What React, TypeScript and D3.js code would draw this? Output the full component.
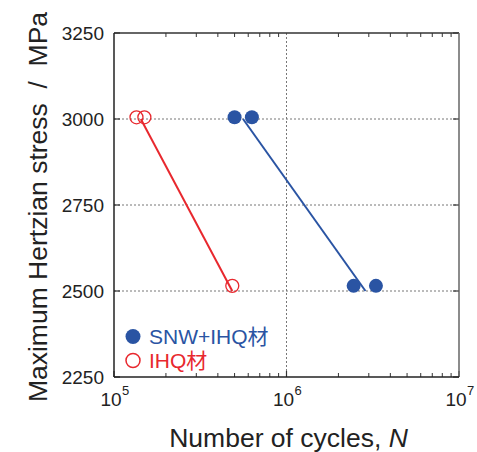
import React from "react";
import * as d3 from "d3";

const W = 477;
const H = 452;

const ihqCycles = [1.35e5, 1.5e5, 4.85e5];
const ihqStress = [3005, 3005, 2515];
const snwCycles = [5.0e5, 6.3e5, 2.45e6, 3.3e6];
const snwStress = [3005, 3005, 2515, 2515];
const ihqFitCycles = [1.43e5, 4.85e5];
const ihqFitStress = [3000, 2500];
const snwFitCycles = [5.6e5, 2.87e6];
const snwFitStress = [3000, 2500];

const yTicks = [2250, 2500, 2750, 3000, 3250];
const yGrid = [2500, 2750, 3000];
const xMajor = [1e5, 1e6, 1e7];
const xExponents = ["5", "6", "7"];
const xGrid = [1e6];
const legendLabels = ["SNW+IHQ材", "IHQ材"];

const BLUE = "#2a54a3";
const RED = "#e8282e";
const FONT = "'Liberation Sans', Arial, 'Noto Sans CJK JP', sans-serif";

export default function App() {
  const left = 114, right = 459, top = 33, bottom = 377;
  const x = d3.scaleLog().domain([1e5, 1e7]).range([left, right]);
  const y = d3.scaleLinear().domain([2250, 3250]).range([bottom, top]);
  const minor: number[] = [];
  [1e5, 1e6].forEach((d) => {
    for (let k = 2; k <= 9; k++) minor.push(d * k);
  });
  const line = d3
    .line<[number, number]>()
    .x((d) => x(d[0]))
    .y((d) => y(d[1]));
  const ihqFit = ihqFitCycles.map((c, i) => [c, ihqFitStress[i]] as [number, number]);
  const snwFit = snwFitCycles.map((c, i) => [c, snwFitStress[i]] as [number, number]);

  return (
    <svg width={W} height={H} style={{ position: "absolute", left: 0, top: 0, background: "#fff" }} fontFamily={FONT}>
      {/* grid */}
      {yGrid.map((v) => (
        <line key={"gy" + v} x1={left} x2={right} y1={y(v)} y2={y(v)} stroke="#777" strokeWidth={1} strokeDasharray="2,2" />
      ))}
      {xGrid.map((v) => (
        <line key={"gx" + v} x1={x(v)} x2={x(v)} y1={top} y2={bottom} stroke="#777" strokeWidth={1} strokeDasharray="2,2" />
      ))}
      {/* minor x ticks */}
      {minor.map((v) => (
        <g key={"m" + v}>
          <line x1={x(v)} x2={x(v)} y1={bottom} y2={bottom - 4} stroke="#333" strokeWidth={1} />
          <line x1={x(v)} x2={x(v)} y1={top} y2={top + 4} stroke="#333" strokeWidth={1} />
        </g>
      ))}
      {/* y major ticks */}
      {yTicks.map((v) => (
        <g key={"yt" + v}>
          <line x1={left} x2={left + 6} y1={y(v)} y2={y(v)} stroke="#333" strokeWidth={1.2} />
          <line x1={right} x2={right - 6} y1={y(v)} y2={y(v)} stroke="#333" strokeWidth={1.2} />
          <text x={left - 10} y={y(v) + 6.5} textAnchor="end" fontSize={19} fill="#222">
            {v}
          </text>
        </g>
      ))}
      {xMajor.map((v, i) => (
        <g key={"xt" + v}>
          <line x1={x(v)} x2={x(v)} y1={bottom} y2={bottom - 6} stroke="#333" strokeWidth={1.2} />
          <text x={x(v) - 3} y={bottom + 29} textAnchor="middle" fontSize={19} fill="#222">
            10
          </text>
          <text x={x(v) + 8} y={bottom + 18} textAnchor="start" fontSize={13} fill="#222">
            {xExponents[i]}
          </text>
        </g>
      ))}
      {/* frame */}
      <line x1={left} x2={right} y1={top} y2={top} stroke="#333" strokeWidth={1.5} />
      <line x1={right} x2={right} y1={top} y2={bottom} stroke="#666" strokeWidth={1.5} />
      <line x1={left} x2={left} y1={top} y2={bottom} stroke="#222" strokeWidth={1.5} />
      <line x1={left} x2={right} y1={bottom} y2={bottom} stroke="#222" strokeWidth={1.5} />

      {/* fit lines */}
      <path d={line(ihqFit) || ""} fill="none" stroke={RED} strokeWidth={2} />
      <path d={line(snwFit) || ""} fill="none" stroke={BLUE} strokeWidth={2} />

      {/* points */}
      {ihqCycles.map((c, i) => (
        <circle key={"r" + i} cx={x(c)} cy={y(ihqStress[i])} r={6.5} fill="none" stroke={RED} strokeWidth={1.3} />
      ))}
      {snwCycles.map((c, i) => (
        <circle key={"b" + i} cx={x(c)} cy={y(snwStress[i])} r={7} fill={BLUE} />
      ))}

      {/* legend */}
      <circle cx={133} cy={336.5} r={7.5} fill={BLUE} />
      <text x={149} y={344} fontSize={21} fill={BLUE}>
        {legendLabels[0]}
      </text>
      <circle cx={133} cy={360.5} r={7} fill="none" stroke={RED} strokeWidth={1.5} />
      <text x={149} y={368} fontSize={21} fill={RED}>
        {legendLabels[1]}
      </text>

      {/* axis titles */}
      <text x={(left + right) / 2 + 2} y={447} textAnchor="middle" fontSize={26.5} fill="#222">
        Number of cycles, <tspan fontStyle="italic">N</tspan>
      </text>
      <text
        transform={`translate(47, ${(top + bottom) / 2 + 2}) rotate(-90)`}
        textAnchor="middle"
        fontSize={26.5}
        fill="#222"
        xmlSpace="preserve"
      >
        {"Maximum Hertzian stress  /  MPa"}
      </text>
    </svg>
  );
}
